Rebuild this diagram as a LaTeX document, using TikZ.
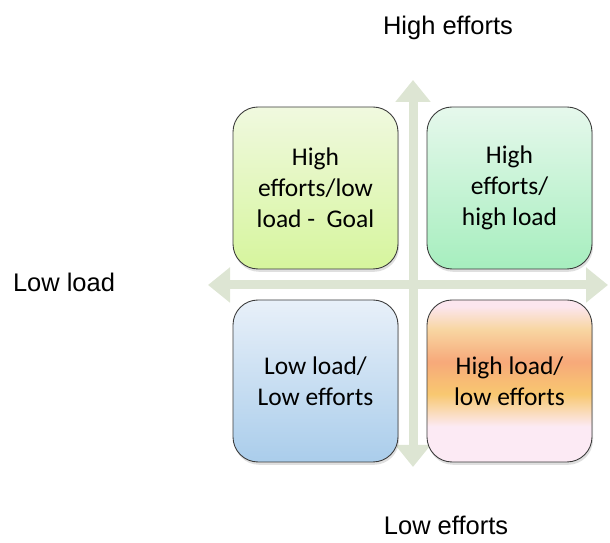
\documentclass[tikz,border=0pt]{standalone}
\usepackage{fontspec}
\setmainfont{Liberation Sans}
\newfontfamily\boxfont{Carlito}
\usetikzlibrary{arrows.meta,shadows}
\definecolor{AxisGrey}{HTML}{DDE5D3}
\definecolor{EdgeGrey}{HTML}{3A3A3A}
\definecolor{GoalTop}{HTML}{F0F9DF}
\definecolor{GoalBot}{HTML}{D6F59D}
\definecolor{HighTop}{HTML}{E6F8EC}
\definecolor{HighBot}{HTML}{A6EEBE}
\definecolor{LowTop}{HTML}{E8F0F9}
\definecolor{LowBot}{HTML}{AACDEB}
\definecolor{PeachPink}{HTML}{FCE6EE}
\definecolor{PeachSand}{HTML}{F8D6A2}
\definecolor{PeachOrange}{HTML}{F7A97A}
\definecolor{PeachYellow}{HTML}{F8C870}
\definecolor{PeachWhite}{HTML}{FCEAF4}
\pgfdeclareverticalshading{peach}{100bp}{color(0bp)=(PeachWhite); color(25bp)=(PeachWhite);
  color(36bp)=(PeachWhite); color(46bp)=(PeachYellow); color(56bp)=(PeachOrange);
  color(66bp)=(PeachSand); color(73bp)=(PeachPink); color(100bp)=(PeachPink)}
\tikzset{
  quad/.style={draw=EdgeGrey,line width=0.5pt,rounded corners=0.5cm,minimum width=3.3cm,
    minimum height=3.24cm,align=center,font=\boxfont\fontsize{14.5}{17.6}\selectfont,
    drop shadow={opacity=0.25,shadow xshift=0.6pt,shadow yshift=-1.6pt}},
  axis/.style={{Triangle[width=0.68cm,length=0.44cm]}-{Triangle[width=0.68cm,length=0.44cm]},
    AxisGrey,line width=0.18cm},
  axislabel/.style={font=\fontsize{14.5}{17}\selectfont}
}

\begin{document}
\begin{tikzpicture}
  \useasboundingbox (0,0) rectangle (12.2,10.86);
  % axes
  \coordinate (left) at (4.16,5.16);
  \coordinate (right) at (12.16,5.16);
  \coordinate (top) at (8.26,9.26);
  \coordinate (bottom) at (8.26,1.52);
  \draw[axis] (left) -- (right);
  \draw[axis] (bottom) -- (top);
  % quadrants
  \node[quad,top color=GoalTop,bottom color=GoalBot] (goal) at (6.31,7.1) {High\\efforts/low\\load -~ Goal};
  \node[quad,top color=HighTop,bottom color=HighBot] (highhigh) at (10.19,7.1) {High\\efforts/\\high load};
  \node[quad,top color=LowTop,bottom color=LowBot] (lowlow) at (6.31,3.24) {Low load/\\Low efforts};
  \node[quad,shading=peach] (highlow) at (10.19,3.24) {High load/\\low efforts};
  % axis labels
  \node[axislabel] (higheff) at (8.96,10.3) {High efforts};
  \node[axislabel] (lowload) at (1.28,5.22) {Low load};
  \node[axislabel] (loweff) at (8.92,0.36) {Low efforts};
\end{tikzpicture}
\end{document}
